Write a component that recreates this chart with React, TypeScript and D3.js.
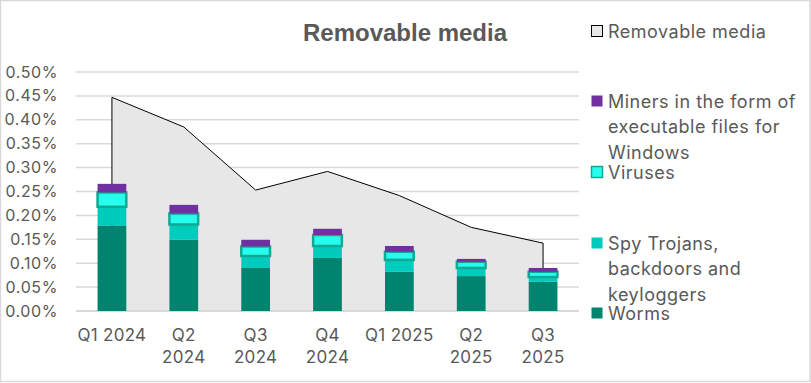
import React from "react";
import * as d3 from "d3";

const categories = ["Q1 2024", "Q2 2024", "Q3 2024", "Q4 2024", "Q1 2025", "Q2 2025", "Q3 2025"];
const removableMedia = [0.447, 0.385, 0.253, 0.292, 0.2415, 0.175, 0.142];
const worms = [0.179, 0.149, 0.09, 0.111, 0.082, 0.073, 0.061];
const spyTrojans = [0.039, 0.032, 0.025, 0.025, 0.025, 0.017, 0.01];
const viruses = [0.03, 0.023, 0.02, 0.023, 0.017, 0.013, 0.011];
const miners = [0.018, 0.018, 0.014, 0.013, 0.012, 0.006, 0.008];
const yTicks = [0, 0.05, 0.1, 0.15, 0.2, 0.25, 0.3, 0.35, 0.4, 0.45, 0.5];
const xLabelLines = [["Q1 2024"], ["Q2", "2024"], ["Q3", "2024"], ["Q4", "2024"], ["Q1 2025"], ["Q2", "2025"], ["Q3", "2025"]];

const seriesKeys = ["worms", "spy", "viruses", "miners"];
const seriesColors: Record<string, string> = {
  worms: "#00836f",
  spy: "#00ccbe",
  viruses: "#27ffee",
  miners: "#7030a0",
};
const virusStroke = "#12a893";

const W = 811;
const H = 383;
const left = 76;
const right = 579;
const top = 72;
const bottom = 311;
const FONT = "Inter, 'Noto Sans', sans-serif";
const TXT = "#595959";

export default function App() {
  const x = d3.scaleBand<string>().domain(categories).range([left, right]).paddingInner(0.6).paddingOuter(0.3);
  const xc = (c: string) => (x(c) as number) + x.bandwidth() / 2;
  const y = d3.scaleLinear().domain([0, 0.5]).range([bottom, top]);

  const table = categories.map((c, i) => ({
    cat: c,
    worms: worms[i],
    spy: spyTrojans[i],
    viruses: viruses[i],
    miners: miners[i],
  }));
  const stacked = d3.stack<any>().keys(seriesKeys)(table);

  const areaGen = d3
    .area<number>()
    .x((_, i) => xc(categories[i]))
    .y0(y(0))
    .y1((d) => y(d));
  const lineData: [number, number][] = [
    [xc(categories[0]), y(0)],
    ...removableMedia.map((v, i) => [xc(categories[i]), y(v)] as [number, number]),
    [xc(categories[categories.length - 1]), y(0)],
  ];
  const lineGen = d3.line();

  const legendX = 591;
  const legend = [
    { lines: ["Removable media"], y: 31, fill: "#e8e8e8", stroke: "#000", sw: 1 },
    { lines: ["Miners in the form of", "executable files for", "Windows"], y: 101, fill: seriesColors.miners, stroke: "none", sw: 0 },
    { lines: ["Viruses"], y: 172, fill: seriesColors.viruses, stroke: virusStroke, sw: 1.5 },
    { lines: ["Spy Trojans,", "backdoors and", "keyloggers"], y: 243, fill: seriesColors.spy, stroke: "none", sw: 0 },
    { lines: ["Worms"], y: 313, fill: seriesColors.worms, stroke: "none", sw: 0 },
  ];

  return (
    <svg width={W} height={H} style={{ position: "absolute", left: 0, top: 0, fontFamily: FONT }}>
      <rect x={0.5} y={0.5} width={809.5} height={381} fill="#fff" stroke="#d9d9d9" strokeWidth={1.5} />
      <text x={405} y={41} textAnchor="middle" fontFamily="'Liberation Sans', Arial, sans-serif" fontWeight="bold" fontSize={24} fill={TXT}>
        Removable media
      </text>
      {yTicks.map((t) => (
        <g key={t}>
          {t > 0 && <line x1={left} x2={right} y1={y(t)} y2={y(t)} stroke="#d9d9d9" strokeWidth={1.5} />}
          <text x={58} y={y(t) + 5.5} textAnchor="end" fontSize={16} letterSpacing={0.6} fill={TXT}>
            {(t * 1).toFixed(2)}%
          </text>
        </g>
      ))}
      <path d={areaGen(removableMedia) || ""} fill="#e7e7e7" stroke="none" />
      <path d={lineGen(lineData) || ""} fill="none" stroke="#000" strokeWidth={1} />
      <line x1={left} x2={right} y1={y(0)} y2={y(0)} stroke="#d9d9d9" strokeWidth={2} />
      {stacked.map((s) => (
        <g key={s.key}>
          {s.map((d, i) => {
            const isV = s.key === "viruses";
            return (
              <rect
                key={i}
                x={x(categories[i]) as number}
                y={y(d[1])}
                width={x.bandwidth()}
                height={y(d[0]) - y(d[1])}
                fill={seriesColors[s.key]}
                stroke={isV ? virusStroke : "none"}
                strokeWidth={isV ? 2.5 : 0}
              />
            );
          })}
        </g>
      ))}
      {xLabelLines.map((lines, i) => (
        <text key={i} textAnchor="middle" fontSize={17} letterSpacing={0.3} fill={TXT}>
          {lines.map((l, j) => (
            <tspan key={j} x={xc(categories[i])} y={341 + j * 22}>
              {l}
            </tspan>
          ))}
        </text>
      ))}
      {legend.map((l, i) => (
        <g key={i}>
          <rect x={legendX + 0.5} y={l.y - 5.5} width={11} height={11} fill={l.fill} stroke={l.stroke} strokeWidth={l.sw} />
          <text fontSize={18} letterSpacing={0.5} fill={TXT}>
            {l.lines.map((t, j) => (
              <tspan key={j} x={608} y={l.y + 6.5 + j * 25.5}>
                {t}
              </tspan>
            ))}
          </text>
        </g>
      ))}
    </svg>
  );
}
